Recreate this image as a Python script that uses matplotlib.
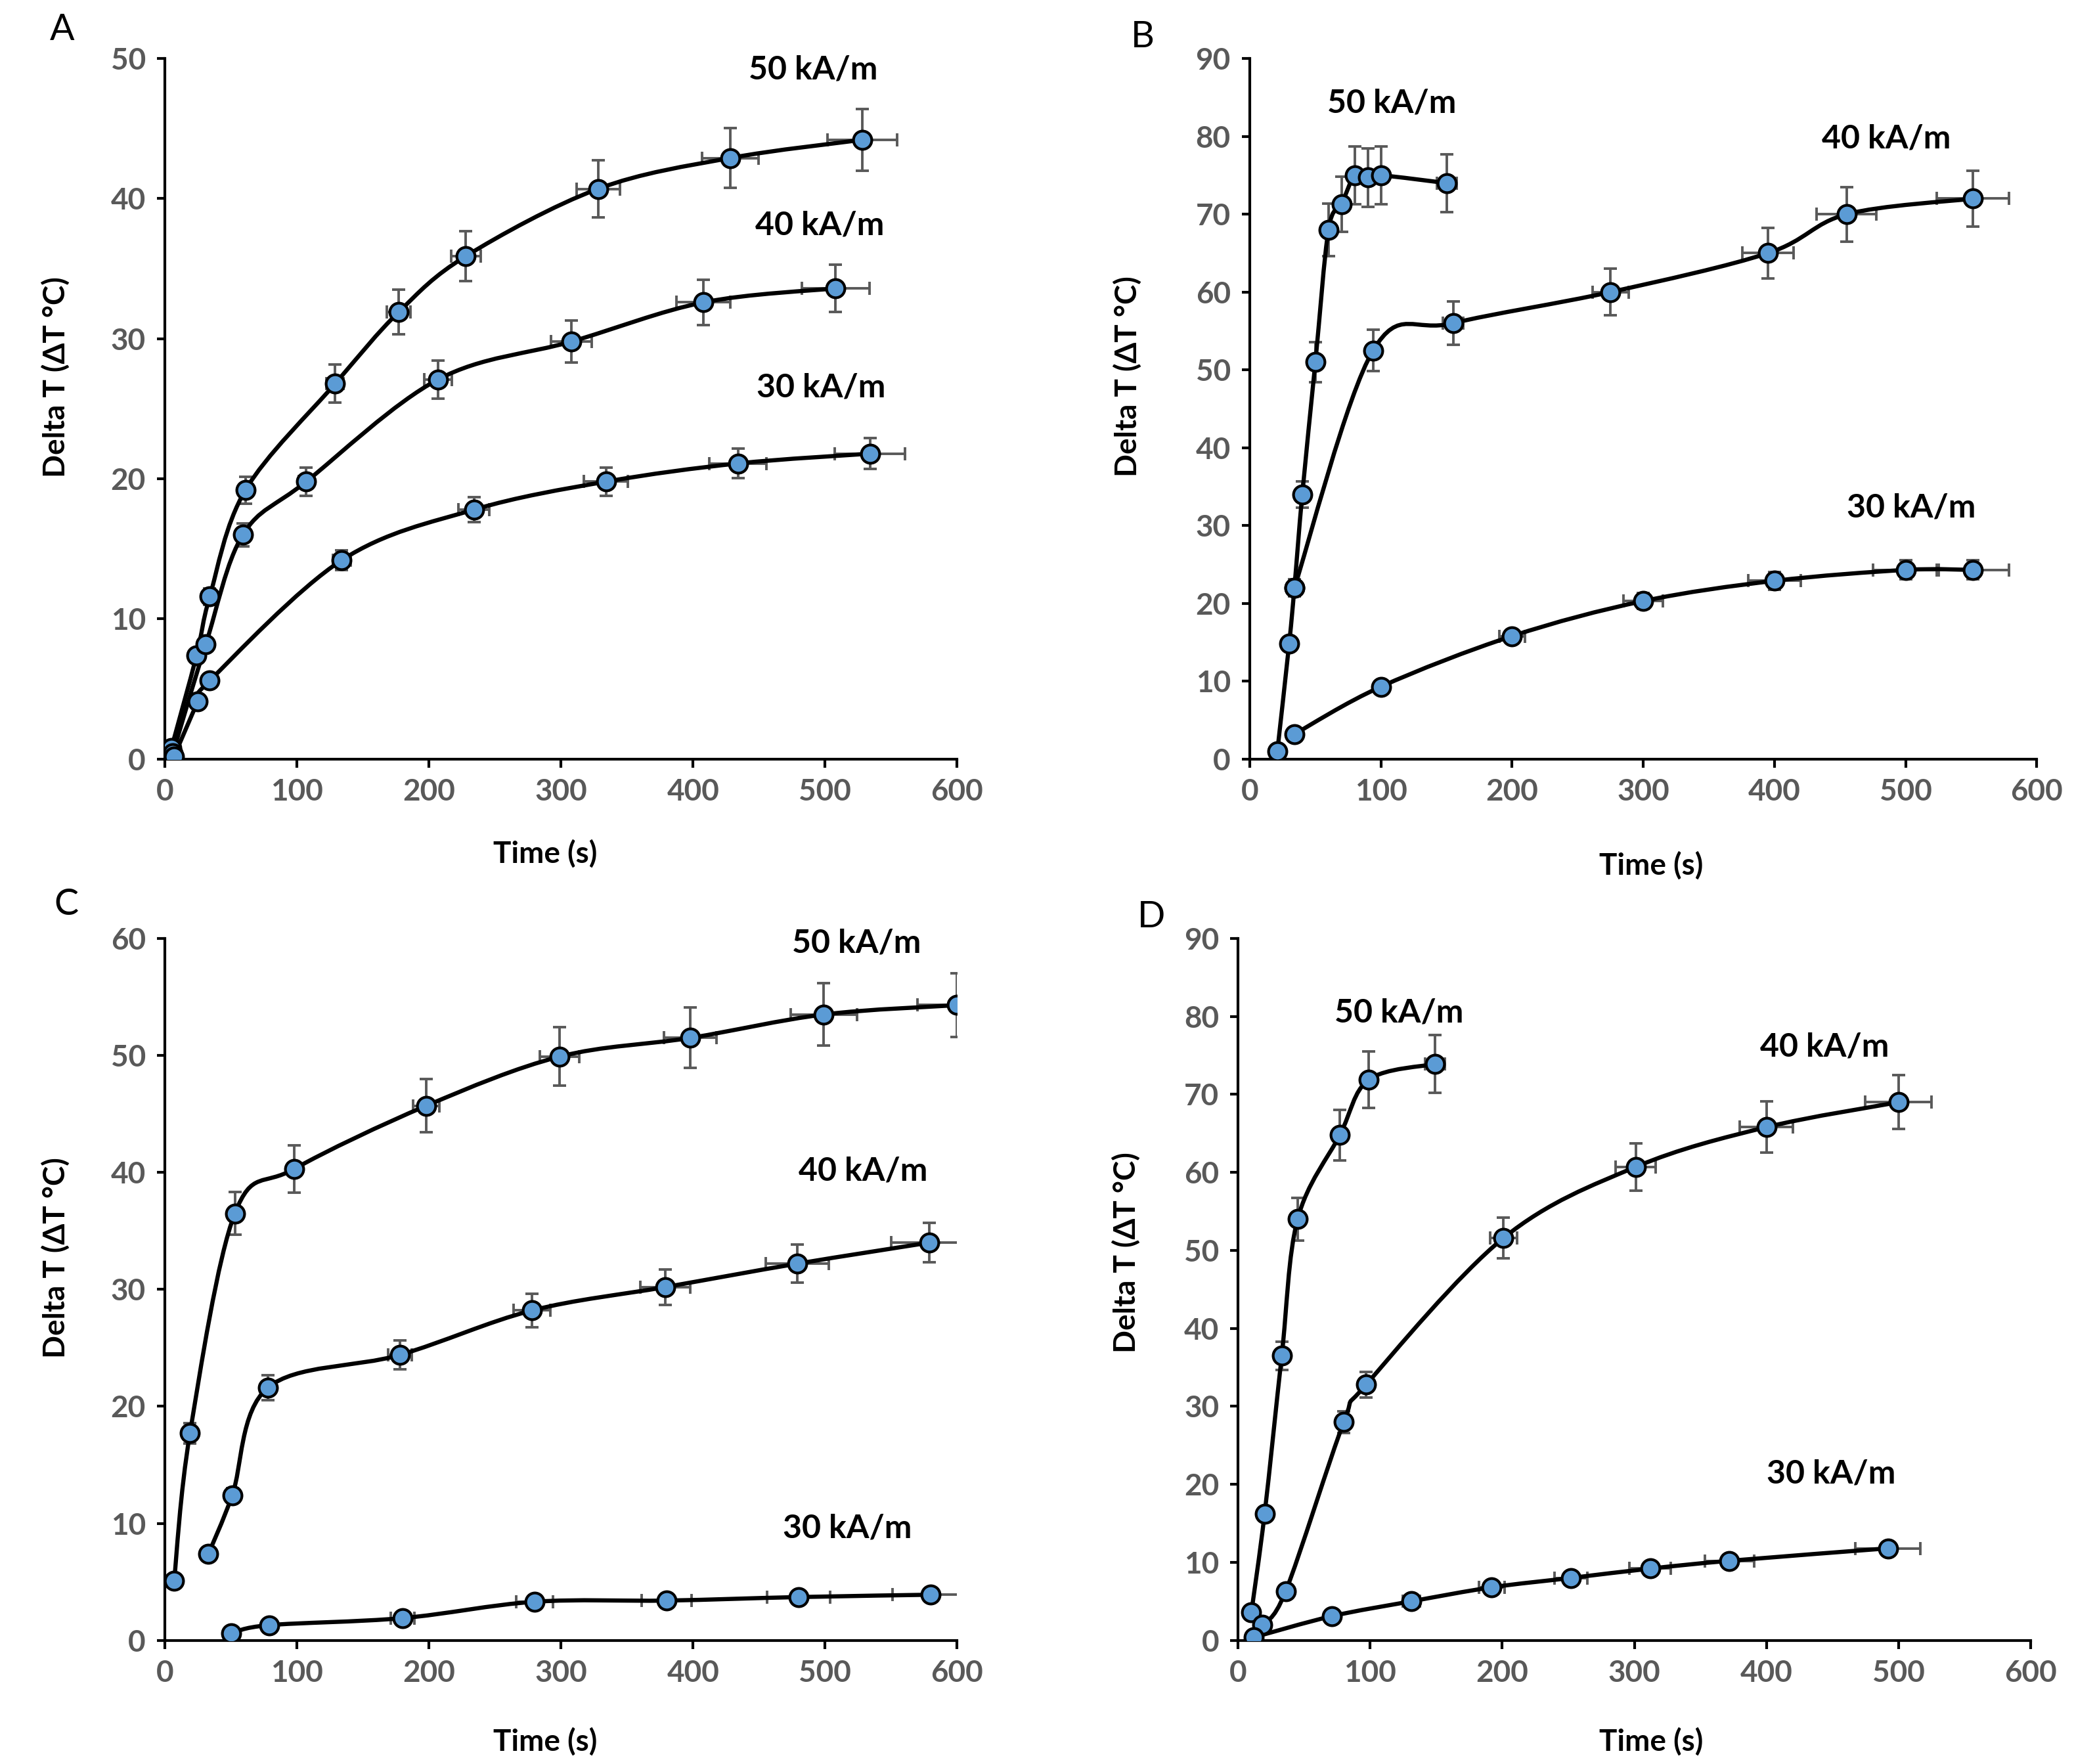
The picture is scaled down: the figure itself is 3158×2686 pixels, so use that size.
import numpy as np
import matplotlib.pyplot as plt
from matplotlib.path import Path
from matplotlib.patches import PathPatch

plt.rcParams['font.family'] = ['Lato', 'DejaVu Sans']

# ---- data ----
# panel A
a50_t = [5, 24, 34, 61, 129, 177, 228, 328, 428, 528]
a50_y = [0.8, 7.4, 11.6, 19.2, 26.8, 31.9, 35.9, 40.7, 42.9, 44.2]
a40_t = [6, 31, 59, 107, 207, 308, 408, 508]
a40_y = [0.4, 8.2, 16.0, 19.8, 27.1, 29.8, 32.6, 33.6]
a30_t = [7, 25, 34, 134, 234, 334, 434, 534]
a30_y = [0.2, 4.1, 5.6, 14.2, 17.8, 19.8, 21.1, 21.8]

# panel B
b50_t = [21, 30, 34, 40, 50, 60, 70, 80, 90, 100, 150]
b50_y = [1.0, 14.8, 22.0, 34.0, 51.0, 68.0, 71.3, 75.0, 74.7, 75.0, 74.0]
b40_t = [34, 94, 155, 275, 395, 455, 551]
b40_y = [22.0, 52.5, 56.0, 60.0, 65.0, 70.0, 72.0]
b30_t = [34, 100, 200, 300, 400, 500, 551]
b30_y = [3.2, 9.3, 15.8, 20.3, 22.9, 24.3, 24.3]

# panel C
c50_t = [7, 19, 53, 98, 198, 299, 398, 499, 600]
c50_y = [5.1, 17.7, 36.5, 40.3, 45.7, 49.9, 51.5, 53.5, 54.3]
c40_t = [33, 51, 78, 178, 278, 379, 479, 579]
c40_y = [7.4, 12.4, 21.6, 24.4, 28.2, 30.2, 32.2, 34.0]
c30_t = [50, 79, 180, 280, 380, 480, 580]
c30_y = [0.6, 1.3, 1.9, 3.3, 3.4, 3.7, 3.9]

# panel D
d50_t = [10, 20, 33, 45, 77, 99, 149]
d50_y = [3.6, 16.2, 36.5, 54.0, 64.8, 71.9, 73.9]
d40_t = [18, 36, 80, 97, 201, 301, 400, 500]
d40_y = [2.0, 6.3, 28.0, 32.8, 51.6, 60.7, 65.8, 69.0]
d30_t = [12, 71, 131, 192, 252, 312, 372, 492]
d30_y = [0.4, 3.1, 5.0, 6.8, 8.0, 9.2, 10.2, 11.8]

ERR_FRAC = 0.05  # 5% error bars on both axes

fields = ['50 kA/m', '40 kA/m', '30 kA/m']

panels = [
    dict(letter='A', series=[(a50_t, a50_y), (a40_t, a40_y), (a30_t, a30_y)],
         ymax=50, ystep=10, labels=[(491, 49.2), (496, 38.1), (497, 26.5)],
         rect=[0.0795, 0.5697, 0.382, 0.3971], letter_pos=(0.030, 0.983),
         ylab=(-0.138, 0.545), xlab=(0.48, -0.135)),
    dict(letter='B', series=[(b50_t, b50_y), (b40_t, b40_y), (b30_t, b30_y)],
         ymax=90, ystep=10, labels=[(108, 84.3), (485, 79.7), (504, 32.3)],
         rect=[0.6026, 0.5697, 0.3795, 0.3971], letter_pos=(0.551, 0.979),
         ylab=(-0.155, 0.546), xlab=(0.51, -0.152)),
    dict(letter='C', series=[(c50_t, c50_y), (c40_t, c40_y), (c30_t, c30_y)],
         ymax=60, ystep=10, labels=[(524, 59.6), (529, 40.1), (517, 9.6)],
         rect=[0.0795, 0.0701, 0.382, 0.3979], letter_pos=(0.032, 0.487),
         ylab=(-0.138, 0.545), xlab=(0.48, -0.144)),
    dict(letter='D', series=[(d50_t, d50_y), (d40_t, d40_y), (d30_t, d30_y)],
         ymax=90, ystep=10, labels=[(122, 80.5), (444, 76.1), (449, 21.4)],
         rect=[0.597, 0.0701, 0.382, 0.3979], letter_pos=(0.555, 0.480),
         ylab=(-0.141, 0.553), xlab=(0.521, -0.144)),
]


def smooth_path(x, y):
    # Excel-like smoothed line: Catmull-Rom segments as cubic Beziers
    p = np.column_stack([x, y]).astype(float)
    n = len(p)
    verts = [p[0]]
    codes = [Path.MOVETO]
    for i in range(n - 1):
        p0 = p[i - 1] if i > 0 else p[i]
        p3 = p[i + 2] if i + 2 < n else p[i + 1]
        c1 = p[i] + (p[i + 1] - p0) / 6.0
        c2 = p[i + 1] - (p3 - p[i]) / 6.0
        verts += [c1, c2, p[i + 1]]
        codes += [Path.CURVE4] * 3
    return Path(verts, codes)


fig = plt.figure(figsize=(15.79, 13.43), dpi=200)
grey = '#595959'

for pan in panels:
    ax = fig.add_axes(pan['rect'])
    for (t, y), name in zip(pan['series'], fields):
        t = np.array(t, float)
        y = np.array(y, float)
        ax.errorbar(t, y, xerr=ERR_FRAC * t, yerr=ERR_FRAC * y, fmt='none',
                    ecolor=grey, elinewidth=1.4, capsize=3.6, capthick=1.4,
                    zorder=2)
        ax.add_patch(PathPatch(smooth_path(t, y), facecolor='none',
                               edgecolor='black', lw=2.3, zorder=3,
                               capstyle='round', joinstyle='round'))
        ax.plot(t, y, 'o', ms=10, mfc='#5B9BD5', mec='black', mew=1.5,
                zorder=4)
    for (lx, ly), name in zip(pan['labels'], fields):
        ax.text(lx, ly, name, ha='center', va='center', fontsize=18,
                fontweight='bold', clip_on=False)

    ax.set_xlim(0, 600)
    ax.set_ylim(0, pan['ymax'])
    ax.set_xticks(np.arange(0, 601, 100))
    ax.set_yticks(np.arange(0, pan['ymax'] + 1, pan['ystep']))
    for s in ['top', 'right']:
        ax.spines[s].set_visible(False)
    for s in ['left', 'bottom']:
        ax.spines[s].set_linewidth(1.5)
    ax.tick_params(direction='out', length=4.5, width=1.5, labelsize=16.5,
                   labelcolor=grey, pad=6)
    for lab in ax.get_xticklabels() + ax.get_yticklabels():
        lab.set_fontweight('bold')
    ax.set_xlabel('Time (s)', fontsize=16.5, fontweight='bold')
    ax.set_ylabel('Delta T (ΔT °C)', fontsize=16.5, fontweight='bold')
    ax.xaxis.label.set_verticalalignment('center')
    ax.yaxis.label.set_verticalalignment('center')
    ax.xaxis.set_label_coords(*pan['xlab'])
    ax.yaxis.set_label_coords(*pan['ylab'])
    fig.text(pan['letter_pos'][0], pan['letter_pos'][1], pan['letter'],
             fontsize=20, ha='center', va='center')

fig.savefig('out.png', dpi=200)
